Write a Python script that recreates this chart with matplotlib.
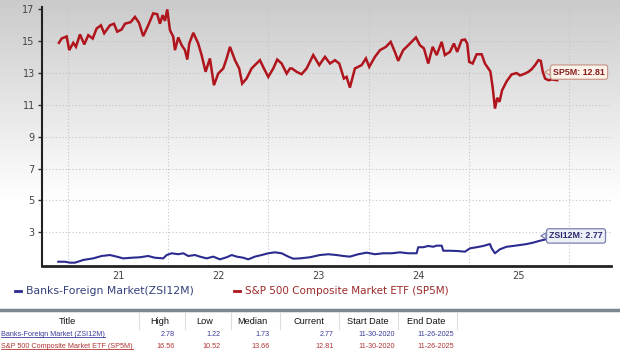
import numpy as np
import matplotlib
matplotlib.use("Agg")
import matplotlib.pyplot as plt
from matplotlib.lines import Line2D

# ---------------- data (decimal years, values) ----------------
sp5m_t = [2020.910, 2020.937, 2020.987, 2021.013, 2021.053, 2021.080, 2021.120, 2021.163,
          2021.203, 2021.247, 2021.286, 2021.329, 2021.362, 2021.419, 2021.459, 2021.492,
          2021.536, 2021.569, 2021.626, 2021.669, 2021.709, 2021.751, 2021.801, 2021.851,
          2021.891, 2021.918, 2021.945, 2021.968, 2021.991, 2022.018, 2022.051, 2022.068,
          2022.101, 2022.135, 2022.168, 2022.191, 2022.211, 2022.251, 2022.300, 2022.334,
          2022.374, 2022.417, 2022.457, 2022.500, 2022.550, 2022.584, 2022.617, 2022.667,
          2022.709, 2022.739, 2022.783, 2022.833, 2022.866, 2022.916, 2022.956, 2022.999,
          2023.049, 2023.089, 2023.133, 2023.183, 2023.216, 2023.236, 2023.282, 2023.332,
          2023.382, 2023.448, 2023.508, 2023.565, 2023.615, 2023.665, 2023.708, 2023.754,
          2023.781, 2023.814, 2023.864, 2023.931, 2023.974, 2024.007, 2024.064, 2024.114,
          2024.174, 2024.221, 2024.263, 2024.296, 2024.346, 2024.396, 2024.430, 2024.473,
          2024.513, 2024.553, 2024.596, 2024.640, 2024.680, 2024.730, 2024.762, 2024.812,
          2024.852, 2024.885, 2024.929, 2024.962, 2024.985, 2025.005, 2025.039, 2025.079,
          2025.129, 2025.162, 2025.216, 2025.239, 2025.262, 2025.285, 2025.307, 2025.333,
          2025.380, 2025.429, 2025.479, 2025.512, 2025.562, 2025.596, 2025.629, 2025.662,
          2025.695, 2025.719, 2025.739, 2025.762, 2025.795, 2025.829, 2025.883]
sp5m_v = [14.90, 15.17, 15.30, 14.44, 14.90, 14.65, 15.43, 14.80,
          15.38, 15.17, 15.80, 16.00, 15.50, 16.00, 16.10, 15.60,
          15.74, 16.10, 16.20, 16.53, 16.16, 15.32, 16.00, 16.75,
          16.70, 16.10, 16.64, 16.28, 17.00, 15.70, 15.28, 14.44,
          15.24, 14.75, 14.44, 13.85, 14.86, 15.53, 14.86, 14.13,
          13.08, 13.92, 12.24, 12.97, 13.29, 13.92, 14.65, 13.81,
          13.29, 12.34, 12.66, 13.29, 13.50, 13.81, 13.29, 12.76,
          13.29, 13.85, 13.60, 12.97, 13.29, 13.29, 13.08, 12.93,
          13.29, 14.13, 13.50, 14.02, 13.60, 13.81, 13.60, 12.66,
          12.76, 12.09, 13.29, 13.50, 13.92, 13.39, 14.02, 14.44,
          14.65, 14.96, 14.33, 13.77, 14.44, 14.75, 14.96, 15.24,
          14.75, 14.55, 13.60, 14.65, 14.13, 14.96, 14.13, 14.33,
          14.86, 14.33, 15.07, 15.11, 14.86, 13.70, 13.60, 14.18,
          14.18, 13.60, 13.10, 12.10, 10.77, 11.45, 11.19, 11.92,
          12.50, 12.92, 13.00, 12.85, 12.97, 13.08, 13.25, 13.50,
          13.81, 13.77, 13.08, 12.66, 12.55, 12.60, 12.55]

zsi_t = [2020.903, 2020.970, 2021.020, 2021.070, 2021.153, 2021.252, 2021.336, 2021.419,
         2021.486, 2021.552, 2021.636, 2021.719, 2021.801, 2021.868, 2021.951, 2021.985,
         2022.035, 2022.101, 2022.151, 2022.201, 2022.267, 2022.317, 2022.384, 2022.450,
         2022.517, 2022.584, 2022.634, 2022.684, 2022.750, 2022.799, 2022.866, 2022.933,
         2022.999, 2023.066, 2023.133, 2023.199, 2023.249, 2023.315, 2023.415, 2023.515,
         2023.598, 2023.682, 2023.748, 2023.814, 2023.897, 2023.981, 2024.064, 2024.147,
         2024.231, 2024.313, 2024.396, 2024.480, 2024.496, 2024.546, 2024.596, 2024.646,
         2024.680, 2024.730, 2024.746, 2024.812, 2024.895, 2024.962, 2025.012, 2025.079,
         2025.145, 2025.212, 2025.229, 2025.262, 2025.311, 2025.378, 2025.444, 2025.511,
         2025.578, 2025.644, 2025.711, 2025.800, 2025.900]
zsi_v = [1.15, 1.15, 1.09, 1.09, 1.26, 1.36, 1.51, 1.57,
         1.47, 1.36, 1.40, 1.43, 1.51, 1.40, 1.36, 1.57,
         1.68, 1.62, 1.68, 1.51, 1.57, 1.47, 1.36, 1.47,
         1.30, 1.43, 1.57, 1.47, 1.40, 1.30, 1.47, 1.57,
         1.68, 1.74, 1.68, 1.47, 1.34, 1.36, 1.43, 1.57,
         1.62, 1.57, 1.51, 1.47, 1.62, 1.72, 1.62, 1.68,
         1.68, 1.74, 1.68, 1.68, 2.06, 2.06, 2.14, 2.09,
         2.16, 2.16, 1.84, 1.84, 1.82, 1.78, 1.99, 2.06,
         2.14, 2.26, 1.99, 1.68, 1.93, 2.09, 2.14, 2.20,
         2.26, 2.35, 2.47, 2.60, 2.70]

x_tick_pos = [2021.5, 2022.5, 2023.5, 2024.5, 2025.5]
x_tick_labels = ["21", "22", "23", "24", "25"]
year_grid = [2021, 2022, 2023, 2024, 2025, 2026]
y_ticks = [3, 5, 7, 9, 11, 13, 15, 17]

zsi_name = "Banks-Foreign Market(ZSI12M)"
sp5m_name = "S&P 500 Composite Market ETF (SP5M)"
zsi_label = "ZSI12M: 2.77"
sp5m_label = "SP5M: 12.81"
zsi_current = 2.77
sp5m_current = 12.81

table_cols = ["Title", "High", "Low", "Median", "Current", "Start Date", "End Date"]
table_rows = [
    ["Banks-Foreign Market (ZSI12M)", "2.78", "1.22", "1.73", "2.77", "11-30-2020", "11-26-2025"],
    ["S&P 500 Composite Market ETF (SP5M)", "16.56", "10.52", "13.66", "12.81", "11-30-2020", "11-26-2025"],
]

# ---------------- styling ----------------
W, H = 620, 354
RED = "#b0141c"
BLUE = "#2b2b8f"

def fx(px):
    return px / W

def fy(py):
    return 1 - py / H

fig = plt.figure(figsize=(W / 100, H / 100), dpi=100)

# background gradient
bg = fig.add_axes([0, 0, 1, 1], zorder=0)
rows = np.arange(H)
g = np.clip(203 + 52 * rows / 200.0, 0, 255) / 255.0
col = np.column_stack([g, g])
img = np.stack([col, col, col], axis=2)
bg.imshow(img, aspect="auto", extent=[0, 1, 0, 1], interpolation="bilinear")
bg.axis("off")

ax = fig.add_axes([fx(41.7), fy(265.7), fx(611) - fx(41.7), fy(6.7) - fy(265.7)], zorder=1)
ax.patch.set_alpha(0)

ax.plot(sp5m_t, sp5m_v, color=RED, lw=1.8, solid_joinstyle="miter", zorder=3)
ax.plot(zsi_t, zsi_v, color=BLUE, lw=1.5, zorder=3)

ax.set_xlim(2020.738, 2026.42)
ax.set_ylim(0.9, 17.17)

ax.set_yticks(y_ticks)
ax.set_yticklabels([str(v) for v in y_ticks])
ax.set_xticks(x_tick_pos)
ax.set_xticklabels(x_tick_labels)
ax.tick_params(axis="y", length=3, width=1, color="#333333", labelsize=7, labelcolor="#444444", pad=2)
ax.tick_params(axis="x", length=0, labelsize=7, labelcolor="#444444", pad=4)

for yv in y_ticks:
    ax.axhline(yv, color="#c4c4c4", lw=0.8, ls=(0, (1, 2)), zorder=1)
for xv in year_grid:
    ax.axvline(xv, color="#c4c4c4", lw=0.8, ls=(0, (1, 2)), zorder=1)

for s in ["top", "right"]:
    ax.spines[s].set_visible(False)
ax.spines["left"].set_color("#222222")
ax.spines["left"].set_linewidth(1.5)
ax.spines["bottom"].set_color("#222222")
ax.spines["bottom"].set_linewidth(2)

# callouts
ax.annotate(sp5m_label, xy=(2025.76, sp5m_current + 0.25), xytext=(6, 0), textcoords="offset points",
            ha="left", va="center", fontsize=6.4, fontweight="bold", family="Liberation Sans",
            color="#8a1c1c", zorder=6,
            bbox=dict(boxstyle="round,pad=0.3,rounding_size=0.25", fc="#fbf3ea", ec="#c79a8c", lw=0.9),
            arrowprops=dict(arrowstyle="wedge,tail_width=0.7,shrink_factor=0.5", fc="#fbf3ea",
                            ec="#c79a8c", lw=0.9, shrinkA=0, shrinkB=0))
ax.annotate(zsi_label, xy=(2025.72, zsi_current), xytext=(6, 0), textcoords="offset points",
            ha="left", va="center", fontsize=6.4, fontweight="bold", family="Liberation Sans",
            color="#2a2a6e", zorder=6,
            bbox=dict(boxstyle="round,pad=0.3,rounding_size=0.25", fc="#eef0f8", ec="#7a7fb0", lw=0.9),
            arrowprops=dict(arrowstyle="wedge,tail_width=0.7,shrink_factor=0.5", fc="#eef0f8",
                            ec="#7a7fb0", lw=0.9, shrinkA=0, shrinkB=0))

# legend
fig.add_artist(Line2D([fx(15), fx(21)], [fy(291)] * 2, color=BLUE, lw=2))
fig.text(fx(26), fy(291), zsi_name, fontsize=7.8, color="#34407a", va="center", ha="left")
fig.add_artist(Line2D([fx(234), fx(240)], [fy(291)] * 2, color=RED, lw=2))
fig.text(fx(245), fy(291), sp5m_name, fontsize=7.5, color="#9b2a2a", va="center", ha="left")

# table
fig.add_artist(Line2D([0, 1], [fy(310)] * 2, color="#7b8791", lw=2.5))
col_center = [67, 160, 205, 252, 309, 368, 426]
col_right = [None, 175, 221, 270, 334, 395, 454]
seps = [139, 185, 231, 280, 339, 398, 457]
for sx in seps:
    fig.add_artist(Line2D([fx(sx)] * 2, [fy(312), fy(329)], color="#dddddd", lw=0.8))
for name, cx in zip(table_cols, col_center):
    fig.text(fx(cx), fy(321), name, fontsize=6.6, family="Liberation Sans", ha="center", va="center",
             color="#111111")
row_y = [334, 346]
row_colors = ["#3b3b9a", "#b03535"]
texts_to_underline = []
for r, yy, c in zip(table_rows, row_y, row_colors):
    t = fig.text(fx(1), fy(yy), r[0], fontsize=5.2, family="Liberation Sans", ha="left", va="center", color=c)
    texts_to_underline.append((t, c))
    for val, rx in zip(r[1:], col_right[1:]):
        fig.text(fx(rx), fy(yy), val, fontsize=5.2, family="Liberation Sans", ha="right", va="center", color=c)

renderer = fig.canvas.get_renderer()
for t, c in texts_to_underline:
    bb = t.get_window_extent(renderer)
    x0, x1 = bb.x0 / W, bb.x1 / W
    yb = (bb.y0 + 0.5) / H
    fig.add_artist(Line2D([x0, x1], [yb, yb], color=c, lw=0.6))

fig.savefig("out.png", dpi=100)
